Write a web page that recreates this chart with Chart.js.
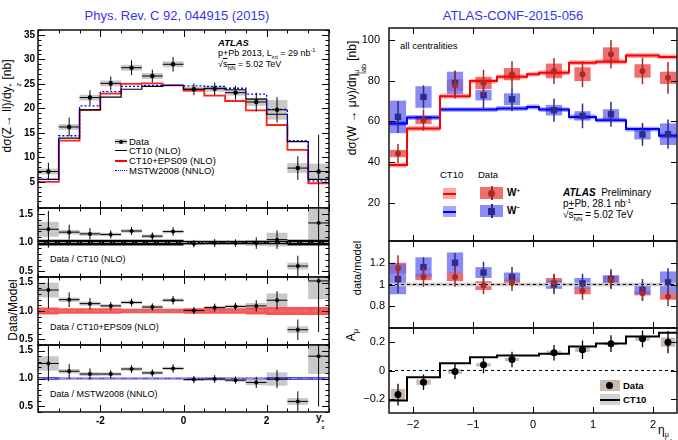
<!DOCTYPE html>
<html>
<head>
<meta charset="utf-8">
<title>ATLAS p+Pb Z and W</title>
<script src="https://cdn.jsdelivr.net/npm/chart.js@4.4.1/dist/chart.umd.min.js"></script>
<style>
  body { margin: 0; background: #fff; }
  #page { position: relative; width: 678px; height: 440px; overflow: hidden; font-family: "Liberation Sans", Arial, sans-serif; color: #000; }
  canvas { position: absolute; }
  .t { position: absolute; white-space: nowrap; line-height: 1; }
  .rot { transform: translate(-50%, -50%) rotate(-90deg); }
  sub, sup { font-size: 0.62em; line-height: 0; }
  .ss { display: inline-flex; flex-direction: column; font-size: 0.6em; line-height: 0.95; vertical-align: -0.45em; }
  .sw { position: absolute; }
</style>
</head>
<body>
<div id="page">
  <div class="t" style="left:177px;top:9px;transform:translateX(-50%);font-size:13px;color:#3535ee">Phys. Rev. C 92, 044915 (2015)</div>
  <div class="t" style="left:513px;top:9px;transform:translateX(-50%);font-size:13px;color:#3535ee">ATLAS-CONF-2015-056</div>

  <!-- left axis titles -->
  <div class="t rot" style="left:12px;top:106px;font-size:12px">dσ(Z→ ll)/dy<span class="ss"><span>*</span><span>z</span></span> [nb]</div>
  <div class="t rot" style="left:13px;top:310px;font-size:12px">Data/Model</div>
  <div class="t" style="left:316px;top:413px;font-size:10px;font-weight:bold">y<span class="ss"><span>*</span><span>z</span></span></div>

  <!-- left legend -->
  <div class="sw" style="left:115px;top:139px;width:12px;height:5px;background:#c8c8c8"></div>
  <div class="sw" style="left:115px;top:141px;width:12px;height:1px;background:#000"></div>
  <div class="sw" style="left:119px;top:140px;width:4px;height:4px;border-radius:50%;background:#000"></div>
  <div class="sw" style="left:115px;top:150px;width:12px;height:1px;background:#000"></div>
  <div class="sw" style="left:115px;top:160px;width:12px;height:2px;background:#ff0000"></div>
  <div class="sw" style="left:115px;top:170px;width:12px;border-top:1.5px dotted #0000ff"></div>
  <div class="t" style="left:129px;top:137px;font-size:9.5px">Data</div>
  <div class="t" style="left:129px;top:146px;font-size:9.5px">CT10 (NLO)</div>
  <div class="t" style="left:129px;top:156px;font-size:9.5px">CT10+EPS09 (NLO)</div>
  <div class="t" style="left:129px;top:166px;font-size:9.5px">MSTW2008 (NNLO)</div>

  <div class="t" style="left:218px;top:38px;font-size:9.5px;font-weight:bold;font-style:italic">ATLAS</div>
  <div class="t" style="left:218px;top:49px;font-size:9px">p+Pb 2013, L<sub>int</sub> = 29 nb<sup>-1</sup></div>
  <div class="t" style="left:218px;top:60px;font-size:9px">√<span style="text-decoration:overline">s<sub>NN</sub></span> = 5.02 TeV</div>

  <div class="t" style="left:50px;top:255px;font-size:9px">Data / CT10 (NLO)</div>
  <div class="t" style="left:50px;top:323px;font-size:9px">Data / CT10+EPS09 (NLO)</div>
  <div class="t" style="left:50px;top:390px;font-size:9px">Data / MSTW2008 (NNLO)</div>

  <!-- right axis titles -->
  <div class="t rot" style="left:357px;top:98px;font-size:12px">dσ(W → μν)/dη<span class="ss"><span>μ</span><span>lab</span></span> [nb]</div>
  <div class="t rot" style="left:357px;top:268px;font-size:11px">data/model</div>
  <div class="t rot" style="left:351px;top:335px;font-size:12px">A<sub>μ</sub></div>
  <div class="t" style="left:658px;top:424px;font-size:12px">η<span class="ss"><span>μ</span><span>lab</span></span></div>

  <div class="t" style="left:400px;top:41px;font-size:9.5px">all centralities</div>

  <!-- right legend -->
  <div class="t" style="left:440px;top:170px;font-size:9.5px">CT10</div>
  <div class="t" style="left:478px;top:170px;font-size:9.5px">Data</div>
  <div class="sw" style="left:443px;top:188px;width:13px;height:11px;background:rgba(255,0,0,0.35)"></div>
  <div class="sw" style="left:443px;top:193px;width:13px;height:2px;background:#ff0000"></div>
  <div class="sw" style="left:443px;top:206px;width:13px;height:11px;background:rgba(0,0,255,0.35)"></div>
  <div class="sw" style="left:443px;top:211px;width:13px;height:2px;background:#0000ff"></div>
  <div class="sw" style="left:480px;top:187px;width:23px;height:12px;background:rgba(240,85,85,0.85)"></div>
  <div class="sw" style="left:491px;top:186px;width:1.5px;height:14px;background:#a02c2c"></div>
  <div class="sw" style="left:488px;top:190px;width:7px;height:7px;border-radius:50%;background:#a52c2c"></div>
  <div class="sw" style="left:480px;top:205px;width:23px;height:12px;background:rgba(110,110,240,0.8)"></div>
  <div class="sw" style="left:491px;top:204px;width:1.5px;height:14px;background:#2c2c8c"></div>
  <div class="sw" style="left:488px;top:208px;width:7px;height:7px;background:#2c2c8c"></div>
  <div class="t" style="left:507px;top:188px;font-size:10px;font-weight:bold">W<sup>+</sup></div>
  <div class="t" style="left:507px;top:206px;font-size:10px;font-weight:bold">W<sup>−</sup></div>

  <div class="t" style="left:563px;top:188px;font-size:10px"><b><i>ATLAS</i></b>&nbsp; Preliminary</div>
  <div class="t" style="left:563px;top:199px;font-size:10px">p+Pb, 28.1 nb<sup>-1</sup></div>
  <div class="t" style="left:563px;top:210px;font-size:10px">√<span style="text-decoration:overline">s<sub>NN</sub></span> = 5.02 TeV</div>

  <div class="sw" style="left:600px;top:380px;width:20px;height:11px;background:#c9bbb0"></div>
  <div class="sw" style="left:606px;top:382px;width:7px;height:7px;border-radius:50%;background:#000"></div>
  <div class="sw" style="left:600px;top:394px;width:20px;height:11px;background:#d2d2d2"></div>
  <div class="sw" style="left:600px;top:399px;width:20px;height:2px;background:#000"></div>
  <div class="t" style="left:623px;top:381px;font-size:9.5px;font-weight:bold">Data</div>
  <div class="t" style="left:623px;top:395px;font-size:9.5px;font-weight:bold">CT10</div>
</div>

<script>
// ---------- Z -> ll, Phys. Rev. C 92, 044915 ----------
const zEdges = [-3.5, -3, -2.5, -2, -1.5, -1, -0.5, 0, 0.5, 1, 1.5, 2, 2.5, 3, 3.5];
const zData  = [7.1, 16.2, 22.2, 25.1, 28.3, 26.6, 29.0, 23.9, 24.0, 23.2, 21.3, 19.7, 7.8, 7.1];
const zStat  = [1.8, 1.9, 1.5, 1.4, 1.5, 1.3, 1.5, 1.2, 1.3, 1.4, 1.9, 2.6, 2.4, 7.5];
const zSys   = [0.6, 0.6, 0.6, 0.6, 0.6, 0.6, 0.6, 0.5, 0.6, 0.6, 0.8, 2.0, 1.0, 1.6];
const zCT10  = [5.5, 13.9, 19.7, 22.3, 23.9, 24.5, 24.7, 23.9, 24.1, 23.8, 21.9, 18.8, 13.2, 5.5];
const zEPS09 = [5.0, 13.4, 19.7, 23.0, 25.0, 25.1, 24.7, 23.6, 22.6, 21.5, 19.6, 16.6, 11.5, 4.7];
const zMSTW  = [5.5, 14.4, 20.5, 23.4, 24.5, 24.7, 24.7, 24.6, 24.5, 24.1, 22.9, 19.8, 13.4, 5.2];

const ratioCT10  = [1.23, 1.18, 1.15, 1.14, 1.20, 1.11, 1.19, 0.98, 0.99, 0.99, 0.99, 1.05, 0.59, 1.34];
const ratioEPS09 = [1.37, 1.20, 1.13, 1.09, 1.15, 1.07, 1.19, 1.01, 1.06, 1.08, 1.09, 1.19, 0.67, 1.53];
const ratioMSTW  = [1.27, 1.13, 1.08, 1.08, 1.17, 1.10, 1.18, 0.98, 0.99, 0.97, 0.93, 0.99, 0.59, 1.40];
const ratioStat  = [0.32, 0.13, 0.10, 0.07, 0.07, 0.065, 0.075, 0.065, 0.07, 0.065, 0.10, 0.16, 0.18, 0.9];
const ratioSys   = [0.13, 0.04, 0.035, 0.03, 0.03, 0.03, 0.03, 0.025, 0.03, 0.03, 0.05, 0.12, 0.06, 0.32];
const bandCT10   = [0.05, 0.05, 0.05, 0.05, 0.05, 0.05, 0.05, 0.03, 0.03, 0.03, 0.03, 0.03, 0.05, 0.05];
const bandEPS09  = [0.06, 0.05, 0.05, 0.05, 0.04, 0.04, 0.04, 0.05, 0.05, 0.05, 0.06, 0.07, 0.07, 0.07];
const bandMSTW   = [0.025, 0.02, 0.02, 0.02, 0.02, 0.02, 0.02, 0.02, 0.02, 0.02, 0.02, 0.025, 0.025, 0.025];

// ---------- W -> mu nu, ATLAS-CONF-2015-056 ----------
const wEdges    = [-2.4, -2.1, -1.55, -1.05, -0.6, -0.1, 0.1, 0.6, 1.05, 1.55, 2.1, 2.4];
const etaBins   = [-2.25, -1.825, -1.3, -0.825, -0.35, 0.35, 0.825, 1.3, 1.825, 2.25];
const ct10Plus  = [38.5, 56.5, 72.4, 79.8, 81.9, 83.2, 83.9, 88.8, 89.3, 92.4, 91.7];
const ct10Minus = [59.0, 61.9, 65.8, 65.8, 66.3, 67.1, 65.8, 62.2, 60.6, 56.2, 52.9];
const ct10Unc   = [1.2, 1.2, 1.2, 1.2, 1.2, 1.2, 1.2, 1.2, 1.2, 1.2, 1.2];
const wPlus     = [44.2, 60.6, 77.8, 78.9, 83.2, 84.8, 83.2, 93.0, 84.8, 81.4];
const wPlusStat = [4.7, 5.2, 6.5, 6.5, 6.4, 6.4, 6.4, 7.0, 6.5, 7.8];
const wPlusSys  = [1.8, 2.0, 2.9, 3.0, 3.0, 3.6, 3.4, 3.4, 3.3, 3.0];
const wMinus     = [62.2, 72.0, 78.9, 72.9, 70.9, 65.5, 62.7, 63.5, 53.6, 53.7];
const wMinusStat = [7.8, 5.7, 6.1, 6.5, 5.9, 5.7, 6.1, 6.1, 5.6, 7.2];
const wMinusSys  = [8.0, 5.3, 5.5, 2.6, 2.9, 2.6, 2.3, 2.5, 2.5, 5.3];

const rPlus      = [1.15, 1.07, 1.07, 0.99, 1.02, 1.02, 0.94, 1.04, 0.92, 0.89];
const rPlusStat  = [0.12, 0.09, 0.09, 0.08, 0.08, 0.08, 0.08, 0.08, 0.07, 0.09];
const rPlusSys   = [0.05, 0.03, 0.04, 0.04, 0.025, 0.04, 0.03, 0.04, 0.02, 0.03];
const rMinus     = [1.05, 1.16, 1.20, 1.11, 1.07, 1.00, 1.01, 1.05, 0.95, 1.02];
const rMinusStat = [0.13, 0.09, 0.09, 0.10, 0.09, 0.09, 0.09, 0.09, 0.10, 0.13];
const rMinusSys  = [0.14, 0.09, 0.095, 0.05, 0.04, 0.04, 0.05, 0.035, 0.04, 0.10];
const ratioBand  = 0.015;

const asym     = [-0.17, -0.083, -0.007, 0.04, 0.078, 0.125, 0.146, 0.189, 0.224, 0.20];
const asymStat = [0.077, 0.054, 0.053, 0.059, 0.055, 0.055, 0.065, 0.059, 0.059, 0.078];
const asymSys  = [0.04, 0.018, 0.016, 0.012, 0.012, 0.014, 0.015, 0.01, 0.014, 0.033];
const asymCT10 = [-0.212, -0.047, 0.052, 0.094, 0.106, 0.106, 0.118, 0.17, 0.19, 0.24, 0.266];

// ---------- helpers ----------
const page = document.getElementById('page');
Chart.defaults.font.family = '"Liberation Sans", Arial, sans-serif';
Chart.defaults.color = '#000';

const mid = e => e.slice(1).map((v, i) => (v + e[i]) / 2);
const pts = (xs, ys) => xs.map((x, i) => ({ x, y: ys[i] }));
const range = (a, b, s) => { const r = []; for (let v = a; v <= b + 1e-9; v += s) r.push(+v.toFixed(4)); return r; };
function stepPts(edges, vals) {
  const p = vals.map((v, i) => ({ x: edges[i], y: v }));
  p.push({ x: edges[edges.length - 1], y: vals[vals.length - 1] });
  return p;
}
const stepDS = (edges, vals, color, width, dash) => ({
  data: stepPts(edges, vals), stepped: true, borderColor: color, borderWidth: width,
  borderDash: dash || [], pointRadius: 0, fill: false
});
const bandDS = (edges, vals, half, color) => [
  { data: stepPts(edges, vals.map((v, i) => v + half[i])), stepped: true, borderColor: 'transparent',
    borderWidth: 0, pointRadius: 0, fill: '+1', backgroundColor: color },
  { data: stepPts(edges, vals.map((v, i) => v - half[i])), stepped: true, borderColor: 'transparent',
    borderWidth: 0, pointRadius: 0, fill: false }
];
const hline = (x0, x1, yv, color, dash, width) => ({
  data: [{ x: x0, y: yv }, { x: x1, y: yv }], borderColor: color, borderDash: dash,
  borderWidth: width || 1, pointRadius: 0, fill: false
});
const dataDS = (xs, ys, o) => Object.assign({
  data: pts(xs, ys), showLine: false, pointStyle: 'circle', pointRadius: 2.2,
  pointBackgroundColor: '#000', pointBorderColor: '#000', pointBorderWidth: 0,
  errColor: '#000', errWidth: 1
}, o);

// error bars, systematic boxes, ROOT style frame with inner ticks
const hep = {
  id: 'hep',
  beforeDatasetsDraw(chart) {
    const { ctx, chartArea: a, scales: { x, y } } = chart;
    ctx.save();
    ctx.beginPath();
    ctx.rect(a.left, a.top, a.width, a.height);
    ctx.clip();
    chart.data.datasets.forEach(ds => {
      if (!ds.sys) return;
      ctx.fillStyle = ds.sysColor;
      ds.data.forEach((p, i) => {
        const x0 = x.getPixelForValue(p.x - ds.sysW), x1 = x.getPixelForValue(p.x + ds.sysW);
        const y0 = y.getPixelForValue(p.y + ds.sys[i]), y1 = y.getPixelForValue(p.y - ds.sys[i]);
        ctx.fillRect(x0, y0, x1 - x0, y1 - y0);
      });
    });
    ctx.restore();
  },
  afterDatasetDraw(chart, args) {
    const ds = chart.data.datasets[args.index];
    if (!ds.err) return;
    const { ctx, chartArea: a, scales: { x, y } } = chart;
    ctx.save();
    ctx.beginPath();
    ctx.rect(a.left, a.top, a.width, a.height);
    ctx.clip();
    ctx.strokeStyle = ds.errColor;
    ctx.lineWidth = ds.errWidth;
    ctx.beginPath();
    ds.data.forEach((p, i) => {
      const px = x.getPixelForValue(p.x), py = y.getPixelForValue(p.y);
      ctx.moveTo(px, y.getPixelForValue(p.y + ds.err[i]));
      ctx.lineTo(px, y.getPixelForValue(p.y - ds.err[i]));
      if (ds.xerr) {
        ctx.moveTo(x.getPixelForValue(p.x - ds.xerr), py);
        ctx.lineTo(x.getPixelForValue(p.x + ds.xerr), py);
      }
    });
    ctx.stroke();
    ctx.restore();
  },
  afterDraw(chart, args, o) {
    const { ctx, chartArea: a, scales: { x, y } } = chart;
    ctx.save();
    ctx.strokeStyle = '#000';
    ctx.lineWidth = 1;
    ctx.beginPath();
    const xt = (vals, len) => (vals || []).forEach(v => {
      const p = Math.round(x.getPixelForValue(v)) + 0.5;
      ctx.moveTo(p, a.bottom); ctx.lineTo(p, a.bottom - len);
      ctx.moveTo(p, a.top); ctx.lineTo(p, a.top + len);
    });
    const yt = (vals, len) => (vals || []).forEach(v => {
      const p = Math.round(y.getPixelForValue(v)) + 0.5;
      ctx.moveTo(a.left, p); ctx.lineTo(a.left + len, p);
      ctx.moveTo(a.right, p); ctx.lineTo(a.right - len, p);
    });
    xt(o.xMajor, o.majLen); xt(o.xMinor, o.minLen);
    yt(o.yMajor, o.majLen); yt(o.yMinor, o.minLen);
    ctx.stroke();
    ctx.lineWidth = 1.4;
    ctx.strokeRect(a.left, a.top, a.width, a.height);
    ctx.restore();
  }
};
Chart.register(hep);

// each panel is its own chart; the canvas is sized so the plot frame lands on `frame`
function panel(frame, o) {
  const PAD = 30;
  const xh = o.xh || 0;
  const cv = document.createElement('canvas');
  const w = frame.r - frame.l + o.yw + PAD;
  const h = frame.b - frame.t + PAD + (xh || PAD);
  cv.width = w; cv.height = h;
  cv.style.left = (frame.l - o.yw) + 'px';
  cv.style.top = (frame.t - PAD) + 'px';
  page.appendChild(cv);
  return new Chart(cv, {
    type: 'line',
    data: { datasets: o.datasets },
    options: {
      responsive: false,
      animation: false,
      events: [],
      layout: { autoPadding: false, padding: { left: 0, top: PAD, right: PAD, bottom: xh ? 0 : PAD } },
      plugins: { legend: { display: false }, tooltip: { enabled: false }, hep: o.marks },
      scales: {
        x: {
          type: 'linear', min: o.x[0], max: o.x[1], display: xh > 0,
          grid: { display: false, drawTicks: false }, border: { display: false },
          afterBuildTicks: s => { s.ticks = (o.xLabels || []).map(v => ({ value: v })); },
          afterFit: s => { s.height = xh; },
          ticks: { font: o.font, padding: o.xPad || 2, maxRotation: 0, autoSkip: false, callback: o.xFmt }
        },
        y: {
          type: 'linear', min: o.y[0], max: o.y[1],
          grid: { display: false, drawTicks: false }, border: { display: false },
          afterBuildTicks: s => { s.ticks = o.yLabels.map(v => ({ value: v })); },
          afterFit: s => { s.width = o.yw; },
          ticks: { font: o.font, padding: o.yPad, autoSkip: false, callback: o.yFmt }
        }
      }
    }
  });
}

// ---------- left column ----------
const zX = [-3.5, 3.5];
const zMid = mid(zEdges);
const leftFont = { size: 10, weight: 'bold' };
const leftXTicks = { xMajor: [-2, 0, 2], xMinor: range(-3.5, 3.5, 0.5) };

panel({ l: 38, r: 329, t: 30, b: 208 }, {
  yw: 38, yPad: 3, x: zX, y: [-0.35, 36], font: leftFont,
  yLabels: range(5, 35, 5), yFmt: v => String(v),
  marks: Object.assign({ yMajor: range(5, 35, 5), yMinor: range(1, 36, 1), majLen: 7, minLen: 3.5 }, leftXTicks),
  datasets: [
    dataDS(zMid, zData, { err: zStat, xerr: 0.25, sys: zSys, sysW: 0.25, sysColor: '#c8c8c8', pointRadius: 2.3 }),
    stepDS(zEdges, zMSTW, '#0000ff', 1.3, [2, 2]),
    stepDS(zEdges, zCT10, '#000000', 1.2),
    stepDS(zEdges, zEPS09, '#ff2020', 1.8)
  ]
});

const ratioPanel = (frame, vals, band, color, xh) => panel(frame, {
  yw: 38, yPad: 5, x: zX, y: [0.4, 1.6], font: leftFont, xh, xPad: 3,
  xLabels: xh ? [-2, 0, 2] : [], xFmt: v => String(v),
  yLabels: [0.5, 1.0, 1.5], yFmt: v => v.toFixed(1),
  marks: Object.assign({ yMajor: [0.5, 1, 1.5], yMinor: range(0.4, 1.6, 0.1), majLen: 7, minLen: 3.5 }, leftXTicks),
  datasets: [
    dataDS(zMid, vals, { err: ratioStat, xerr: 0.25, sys: ratioSys, sysW: 0.25, sysColor: '#c8c8c8', pointRadius: 2 }),
    hline(zX[0], zX[1], 1, '#9a9a9a', [6, 2, 1, 2], 1),
    ...bandDS(zEdges, zEdges.slice(1).map(() => 1), band, color)
  ]
});
ratioPanel({ l: 38, r: 329, t: 208, b: 277 }, ratioCT10, bandCT10, '#000000');
ratioPanel({ l: 38, r: 329, t: 277, b: 345 }, ratioEPS09, bandEPS09, 'rgba(255,40,40,0.8)');
ratioPanel({ l: 38, r: 329, t: 345, b: 412 }, ratioMSTW, bandMSTW, 'rgba(40,40,255,0.85)', 18);

// ---------- right column ----------
const wX = [-2.4, 2.4];
const rightFont = { size: 11 };
const minusFmt = v => (v < 0 ? '\u2212' + String(-v) : String(v));
const rightXTicks = { xMajor: [-2, -1, 0, 1, 2], majLen: 6 };

panel({ l: 389, r: 677, t: 28, b: 241 }, {
  yw: 50, yPad: 9, x: wX, y: [1.2, 105.9], font: rightFont,
  yLabels: [20, 40, 60, 80, 100], yFmt: v => String(v),
  marks: Object.assign({ yMajor: [20, 40, 60, 80, 100] }, rightXTicks),
  datasets: [
    dataDS(etaBins, wPlus, { err: wPlusStat, sys: wPlusSys, sysW: 0.135, sysColor: 'rgba(240,85,85,0.85)',
      pointRadius: 3, pointBackgroundColor: '#a52c2c', pointBorderColor: '#a52c2c', errColor: '#a02c2c', errWidth: 1.5 }),
    dataDS(etaBins, wMinus, { err: wMinusStat, sys: wMinusSys, sysW: 0.135, sysColor: 'rgba(110,110,240,0.8)',
      pointStyle: 'rect', pointRadius: 4.5, pointBackgroundColor: '#2c2c8c', pointBorderColor: '#2c2c8c', errColor: '#2c2c8c', errWidth: 1.5 }),
    stepDS(wEdges, ct10Plus, '#ff0000', 2),
    stepDS(wEdges, ct10Minus, '#0000ff', 2),
    ...bandDS(wEdges, ct10Plus, ct10Unc, 'rgba(255,0,0,0.35)'),
    ...bandDS(wEdges, ct10Minus, ct10Unc, 'rgba(0,0,255,0.35)')
  ]
});

panel({ l: 389, r: 677, t: 241, b: 328 }, {
  yw: 50, yPad: 4, x: wX, y: [0.6, 1.4], font: rightFont,
  yLabels: [0.8, 1, 1.2], yFmt: v => String(v),
  marks: Object.assign({ yMajor: [0.8, 1, 1.2] }, rightXTicks),
  datasets: [
    dataDS(etaBins, rPlus, { err: rPlusStat, sys: rPlusSys, sysW: 0.135, sysColor: 'rgba(240,85,85,0.85)',
      pointRadius: 3, pointBackgroundColor: '#a52c2c', pointBorderColor: '#a52c2c', errColor: '#a02c2c', errWidth: 1.5 }),
    dataDS(etaBins, rMinus, { err: rMinusStat, sys: rMinusSys, sysW: 0.135, sysColor: 'rgba(110,110,240,0.8)',
      pointStyle: 'rect', pointRadius: 4.5, pointBackgroundColor: '#2c2c8c', pointBorderColor: '#2c2c8c', errColor: '#2c2c8c', errWidth: 1.5 }),
    hline(wX[0], wX[1], 1, '#000', [3, 3], 1),
    ...bandDS([wX[0], wX[1]], [1], [ratioBand], '#c8c8c8')
  ]
});

panel({ l: 389, r: 677, t: 328, b: 413 }, {
  yw: 50, yPad: 4, x: wX, y: [-0.3, 0.3], font: rightFont, xh: 27, xPad: 5,
  xLabels: [-2, -1, 0, 1, 2], xFmt: minusFmt,
  yLabels: [-0.2, 0, 0.2], yFmt: minusFmt,
  marks: Object.assign({ yMajor: [-0.2, 0, 0.2] }, rightXTicks),
  datasets: [
    dataDS(etaBins, asym, { err: asymStat, sys: asymSys, sysW: 0.12, sysColor: '#c9bbb0', pointRadius: 3.5, errWidth: 1.3 }),
    stepDS(wEdges, asymCT10, '#000', 2),
    hline(wX[0], wX[1], 0, '#000', [3, 3], 1)
  ]
});
</script>
</body>
</html>
